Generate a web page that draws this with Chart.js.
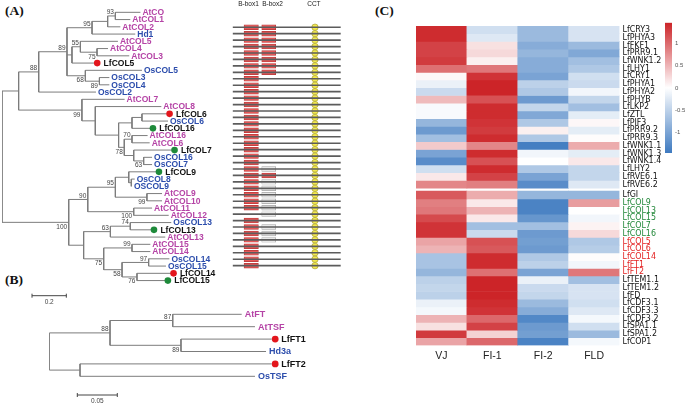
<!DOCTYPE html>
<html>
<head>
<meta charset="utf-8">
<title>COL / FT phylogeny and expression heatmap</title>
<script src="https://cdn.jsdelivr.net/npm/chart.js@4.4.1/dist/chart.umd.min.js"></script>
<style>
html,body{margin:0;padding:0;background:#fff;}
body{position:relative;width:685px;height:403px;overflow:hidden;}
canvas{position:absolute;}
.panel{position:absolute;font-family:"Liberation Serif","Times New Roman",serif;font-weight:bold;font-size:13.5px;line-height:14px;color:#111;}
</style>
</head>
<body>
<div class="panel" style="left:5px;top:4px">(A)</div>
<div class="panel" style="left:5px;top:273px">(B)</div>
<div class="panel" style="left:375px;top:4px">(C)</div>
<canvas id="treeA" width="232" height="312" style="left:0;top:0"></canvas>
<canvas id="domains" width="122" height="312" style="left:228px;top:0"></canvas>
<canvas id="treeB" width="330" height="103" style="left:0;top:300px"></canvas>
<canvas id="heat" width="269" height="403" style="left:416px;top:0"></canvas>
<canvas id="cbar" width="30" height="155" style="left:655px;top:10px"></canvas>
<script>
// ---------------- DATA ----------------
// (C) heatmap
const heatColumns = ['VJ', 'FI-1', 'FI-2', 'FLD'];
const clockGenes = ['LfCRY3','LfPHYA3','LfFKF1','LfPRR9.1','LfWNK1.2','LfLHY1','LfCRY1','LfPHYA1','LfPHYA2','LfPHYB','LfLKP2','LfZTL','LfPIF3','LfPRR9.2','LfPRR9.3','LfWNK1.1','LfWNK1.3','LfWNK1.4','LfLHY2','LfRVE6.1','LfRVE6.2'];
const floweringGenes = ['LfGI','LfCOL9','LfCOL13','LfCOL15','LfCOL7','LfCOL16','LfCOL5','LfCOL6','LfCOL14','LfFT1','LfFT2','LfTEM1.1','LfTEM1.2','LfFD','LfCDF3.1','LfCDF3.3','LfCDF3.2','LfSPA1.1','LfSPA1.2','LfCOP1'];
const valuesVJ  = [1.4,1.4,1.25,1.25,1.3,0.95,0.05,-0.15,-0.4,0.45,-0.05,-0.05,-0.8,-1.1,-0.7,0.35,-1.0,-1.25,-0.35,0.15,0.8,
                   1.1,0.85,0.9,1.2,1.35,1.35,0.6,0.5,-0.65,-0.65,-0.8,-0.5,-0.45,-0.5,-0.15,-0.08,0.5,0.2,1.3,0.6];
const valuesFI1 = [-0.35,-0.25,0.2,0.25,0.1,0.9,1.35,1.45,1.45,1.15,1.4,1.4,1.35,1.3,1.4,0.8,1.4,1.15,1.4,1.25,0.85,
                   0.55,0.15,0.5,0.15,-0.7,-0.4,1.15,1.1,1.4,1.4,0.95,1.45,1.45,1.45,1.4,1.35,1.0,1.25,0.3,1.0];
const valuesFI2 = [-0.75,-0.75,-0.9,-0.8,-0.9,-0.9,-1.0,-0.5,-0.6,-1.1,-0.45,-0.95,-0.6,0.1,-0.6,-1.4,-0.1,0.0,-0.6,-1.0,-1.25,
                   -0.8,-1.35,-1.35,-1.15,-0.7,-1.1,-1.05,-1.1,-0.6,-0.5,-1.0,-0.15,-0.4,-0.45,-0.75,-0.9,-1.3,-1.1,-1.05,-1.35];
const valuesFLD = [-0.3,-0.3,-0.75,-0.95,-0.7,-0.6,-0.35,-0.4,-0.1,-0.45,-0.7,-0.2,0.05,-0.2,0.02,0.55,-0.2,0.15,-0.45,-0.45,-0.25,
                   -0.8,0.65,0.0,-0.1,0.08,0.25,-0.6,-0.55,0.02,-0.1,0.9,-0.7,-0.3,-0.3,-0.35,-0.25,-0.08,-0.35,-0.75,-0.08];
const colorbarTicks = [-1, -0.5, 0, 0.5, 1];
const colorbarRange = [-1.45, 1.45];
const greenGenes = ['LfCOL9','LfCOL13','LfCOL15','LfCOL7','LfCOL16'];
const redGenes = ['LfCOL5','LfCOL6','LfCOL14','LfFT1','LfFT2'];

// (A) COL tree: internal node = [distance, bootstrap, ...children]; leaf = name
const treeATopology = [0, null,
  [0.097, null,
    [0.214, 88,
      [0.379, 89,
        [0.525, 95, [0.616, null, [0.661, 93, 'AtCO', 'AtCOL1'], 'AtCOL2'], 'Hd1'],
        [0.408, null, [0.457, 55, 'AtCOL5', [0.554, 75, 'AtCOL4', 'AtCOL3']], 'LfCOL5'],
        [0.486, 68, 'OsCOL5', [0.568, 89, 'OsCOL3', 'OsCOL4']]
      ],
      'OsCOL2'
    ],
    [0.466, 99, 'AtCOL7',
      [0.544, null, 'AtCOL8',
        [0.680, null,
          [0.758, null, [0.816, null, 'LfCOL6', 'OsCOL6'], 'LfCOL16'],
          [0.713, 78, [0.758, 70, 'AtCOL16', 'AtCOL6'], [0.768, null, 'LfCOL7', [0.826, 63, 'OsCOL16', 'OsCOL7']]]
        ]
      ]
    ]
  ],
  [0.389, 100,
    [0.500, 90,
      [0.661, 95, [0.739, null, 'LfCOL9', [0.754, null, 'OsCOL8', 'OSCOL9']], [0.845, 99, 'AtCOL9', 'AtCOL10']],
      [0.768, 100, 'AtCOL11', 'AtCOL12']
    ],
    [0.476, null,
      [0.632, 63, [0.748, 74, 'OsCOL13', 'LfCOL13'], 'AtCOL13'],
      [0.593, 75, [0.758, 99, 'AtCOL15', 'AtCOL14'], [0.700, 58, [0.855, 97, 'OsCOL14', 'OsCOL15'], [0.787, 76, 'LfCOL14', 'LfCOL15']]]
    ]
  ]
];
const treeALeaves = ['AtCO','AtCOL1','AtCOL2','Hd1','AtCOL5','AtCOL4','AtCOL3','LfCOL5','OsCOL5','OsCOL3','OsCOL4','OsCOL2','AtCOL7','AtCOL8','LfCOL6','OsCOL6','LfCOL16','AtCOL16','AtCOL6','LfCOL7','OsCOL16','OsCOL7','LfCOL9','OsCOL8','OSCOL9','AtCOL9','AtCOL10','AtCOL11','AtCOL12','OsCOL13','LfCOL13','AtCOL13','AtCOL15','AtCOL14','OsCOL14','OsCOL15','LfCOL14','LfCOL15'];
const treeALeafDist = [0.807,0.748,0.690,0.777,0.676,0.618,0.742,0.540,0.816,0.626,0.626,0.548,0.715,0.929,0.962,0.968,0.865,0.849,0.861,0.991,0.875,0.875,0.900,0.774,0.758,0.933,0.933,0.875,0.972,0.987,0.871,0.952,0.865,0.865,0.976,0.956,0.985,0.952];
const treeAScaleBar = 0.2;

// domain structure (same leaf order): B-box1 present (1/0), B-box2 kind (R red, G degenerate grey, - none)
const bbox1Present = [1,1,1,1,1,1,1,1,1,1,1,1,1,1,1,1,1,1,1,1,1,1,1,1,1,1,1,1,1,0,1,1,1,1,1,1,1,1];
const bbox2Kind = ['R','R','R','R','R','R','R','R','-','-','-','-','-','-','-','-','-','-','-','-','-','-','G','R','G','G','G','G','G','G','-','G','G','G','-','-','-','-'];
const bbox1Span = [10.5, 23.8];
const bbox2Span = [26.9, 39.8];
const cctPos = 76.2;
const domainHeaders = ['B-box1', 'B-box2', 'CCT'];

// (B) FT tree
const treeBTopology = [0, null,
  [0.0759, 88, [0.1543, 87, 'AtFT', 'AtTSF'], [0.1646, 89, 'LfFT1', 'Hd3a']],
  [0.0384, null, 'LfFT2', 'OsTSF']
];
const treeBLeaves = ['AtFT','AtTSF','LfFT1','Hd3a','LfFT2','OsTSF'];
const treeBLeafDist = [0.2405,0.2571,0.278,0.2709,0.278,0.2571];
const treeBScaleBar = 0.05;

// ---------------- HELPERS ----------------
Chart.defaults.font.family = '"Liberation Sans", Arial, sans-serif';
const SANS = '"Liberation Sans", Arial, sans-serif';
const NARROW = '"Liberation Sans Narrow", "DejaVu Sans Condensed", "Arial Narrow", sans-serif';
const baseOpts = {responsive:false, animation:false, events:[], plugins:{legend:{display:false}, tooltip:{enabled:false}}};

const LOW = [62,122,192], HIGH = [204,36,40];
function heatColor(v){
  const t = Math.max(-1, Math.min(1, v / colorbarRange[1]));
  const c = t < 0 ? LOW : HIGH, a = Math.abs(t);
  return 'rgb(' + c.map(k => Math.round(255 + (k - 255) * a)).join(',') + ')';
}
function speciesColor(n){
  if (/^At/.test(n)) return '#B544A6';
  if (/^(Os|OS|Hd)/.test(n)) return '#2C4DAC';
  return '#111111';
}
function dotColor(n){
  if (redGenes.includes(n)) return '#E3161C';
  if (greenGenes.includes(n)) return '#1E8A3A';
  return null;
}
function labelColor(n){
  if (redGenes.includes(n)) return '#E32222';
  if (greenGenes.includes(n)) return '#23883A';
  return '#111';
}

function layoutTree(topo, leaves, dists){
  const segs = [], nodes = [];
  function walk(n, isFirst){
    if (typeof n === 'string'){ const i = leaves.indexOf(n); return {x: dists[i], y: i}; }
    const [x, bs, ...kids] = n;
    const ys = kids.map((k, j) => { const r = walk(k, j === 0); segs.push([x, r.y, r.x, r.y]); return r.y; });
    segs.push([x, ys[0], x, ys[ys.length - 1]]);
    const y = (ys[0] + ys[ys.length - 1]) / 2;
    if (bs != null) nodes.push({x, y, bs, above: isFirst});
    return {x, y};
  }
  walk(topo, true);
  const pts = [];
  segs.forEach(s => { pts.push({x:s[0], y:s[1]}, {x:s[2], y:s[3]}, {x:s[2], y:null}); });
  return {pts, nodes};
}

function treePlugin(layout, leaves, dists, o){
  return {
    id: 'treeDecor',
    afterDatasetsDraw(chart){
      const {ctx, scales:{x, y}, chartArea} = chart;
      ctx.save();
      leaves.forEach((name, i) => {
        const px = x.getPixelForValue(dists[i]), py = y.getPixelForValue(i);
        let tx = px + o.textGap;
        const dc = dotColor(name);
        if (dc){
          ctx.beginPath(); ctx.arc(px + o.dotGap, py, o.dotR, 0, Math.PI * 2);
          ctx.fillStyle = dc; ctx.fill();
          tx = px + o.dotTextGap;
        }
        ctx.font = 'bold ' + o.fontSize + 'px ' + SANS;
        ctx.fillStyle = speciesColor(name);
        ctx.textAlign = 'left'; ctx.textBaseline = 'middle';
        ctx.fillText(name, tx, py + 0.5);
      });
      ctx.font = '6.5px ' + SANS; ctx.fillStyle = '#444'; ctx.textAlign = 'right';
      layout.nodes.forEach(n => {
        const px = x.getPixelForValue(n.x) - 1.5, py = y.getPixelForValue(n.y);
        if (n.above){ ctx.textBaseline = 'bottom'; ctx.fillText(String(n.bs), px, py - 0.3); }
        else { ctx.textBaseline = 'top'; ctx.fillText(String(n.bs), px, py + 1.5); }
      });
      // scale bar
      const x0 = x.getPixelForValue(o.barStart), x1 = x.getPixelForValue(o.barStart + o.barLen);
      const by = chartArea.bottom + o.barDy;
      ctx.strokeStyle = '#444'; ctx.lineWidth = 1;
      ctx.beginPath();
      ctx.moveTo(x0, by); ctx.lineTo(x1, by);
      ctx.moveTo(x0, by - 2); ctx.lineTo(x0, by + 2);
      ctx.moveTo(x1, by - 2); ctx.lineTo(x1, by + 2);
      ctx.stroke();
      ctx.font = '6.5px ' + SANS; ctx.fillStyle = '#444'; ctx.textAlign = 'center'; ctx.textBaseline = 'middle';
      ctx.fillText(String(o.barLen), (x0 + x1) / 2, by + 6.5);
      ctx.restore();
    }
  };
}

function treeChart(id, topo, leaves, dists, cfg){
  const lay = layoutTree(topo, leaves, dists);
  return new Chart(document.getElementById(id), {
    type: 'scatter',
    data: {datasets: [{data: lay.pts, showLine: true, spanGaps: false, borderColor: '#7c7c7c', borderWidth: 1, pointRadius: 0}]},
    options: Object.assign({}, baseOpts, {
      layout: {padding: cfg.padding},
      scales: {
        x: {type: 'linear', display: false, min: 0, max: cfg.xMax},
        y: {type: 'linear', display: false, min: -0.5, max: leaves.length - 0.5, reverse: true}
      }
    }),
    plugins: [treePlugin(lay, leaves, dists, cfg.deco)]
  });
}

// ---------------- (A) tree ----------------
treeChart('treeA', treeATopology, treeALeaves, treeALeafDist, {
  padding: {left: 2, right: 0, top: 8.7, bottom: 312 - 8.7 - 38 * 7.25},
  xMax: 230 / 171.5,
  deco: {fontSize: 8.5, textGap: 2, dotGap: 2.6, dotR: 3.3, dotTextGap: 9, barStart: 0.175, barLen: treeAScaleBar, barDy: 11.5}
});

// ---------------- domains ----------------
(function(){
  const rows = treeALeaves.map((n, i) => i);
  const bb1 = rows.filter(i => bbox1Present[i]).map(i => ({x: bbox1Span, y: i}));
  const bb2r = rows.filter(i => bbox2Kind[i] === 'R').map(i => ({x: bbox2Span, y: i}));
  const bb2g = rows.filter(i => bbox2Kind[i] === 'G').map(i => ({x: bbox2Span, y: i}));
  const barBase = {grouped: false, borderSkipped: false, barPercentage: 1, categoryPercentage: 1};
  new Chart(document.getElementById('domains'), {
    type: 'bar',
    data: {datasets: [
      Object.assign({}, barBase, {data: rows.map(i => ({x: [0, 100], y: i})), maxBarThickness: 1, backgroundColor: '#5c5c5c', borderWidth: 0}),
      Object.assign({}, barBase, {data: bb1, maxBarThickness: 4.8, backgroundColor: '#E65858', borderColor: '#B73838', borderWidth: 0.7}),
      Object.assign({}, barBase, {data: bb2r, maxBarThickness: 4.8, backgroundColor: '#E65858', borderColor: '#B73838', borderWidth: 0.7}),
      Object.assign({}, barBase, {data: bb2g, maxBarThickness: 4.8, backgroundColor: '#E8E8E8', borderColor: '#A5A5A5', borderWidth: 0.7}),
      {type: 'scatter', data: rows.map(i => ({x: cctPos, y: i})), pointRadius: 3.2, pointBackgroundColor: '#F4EA4E', pointBorderColor: '#A9A03C', pointBorderWidth: 0.7, showLine: false}
    ]},
    options: Object.assign({}, baseOpts, {
      indexAxis: 'y',
      layout: {padding: {left: 4.7, right: 9.3, top: 8.7, bottom: 312 - 8.7 - 38 * 7.25}},
      scales: {
        x: {type: 'linear', display: false, min: 0, max: 100},
        y: {type: 'linear', display: false, min: -0.5, max: 37.5, reverse: true}
      }
    }),
    plugins: [{
      id: 'domainHeaders',
      afterDraw(chart){
        const {ctx, scales:{x}} = chart;
        const centers = [(bbox1Span[0] + bbox1Span[1]) / 2 - 2.5, (bbox2Span[0] + bbox2Span[1]) / 2 + 3.5, cctPos - 1];
        ctx.save();
        ctx.font = '6.5px ' + SANS; ctx.fillStyle = '#222'; ctx.textAlign = 'center'; ctx.textBaseline = 'middle';
        domainHeaders.forEach((h, k) => ctx.fillText(h, x.getPixelForValue(centers[k]), 4.6));
        ctx.restore();
      }
    }]
  });
})();

// ---------------- (B) tree ----------------
treeChart('treeB', treeBTopology, treeBLeaves, treeBLeafDist, {
  padding: {left: 49.3, right: 0, top: 8.1, bottom: 103 - 8.1 - 6 * 12.4},
  xMax: (330 - 49.3) / 800,
  deco: {fontSize: 9, textGap: 3, dotGap: 3.5, dotR: 3.4, dotTextGap: 9.5, barStart: 0.035, barLen: treeBScaleBar, barDy: 12.5}
});

// ---------------- (C) heatmap ----------------
(function(){
  const genes = clockGenes.concat(floweringGenes);
  const gap = 0.39;
  const rowStart = i => i < clockGenes.length ? i : i + gap;
  const total = genes.length + gap;
  const datasets = genes.map((g, i) => ({
    label: g,
    data: heatColumns.map(() => [rowStart(i), rowStart(i) + 1]),
    backgroundColor: [valuesVJ[i], valuesFI1[i], valuesFI2[i], valuesFLD[i]].map(heatColor),
    grouped: false, barPercentage: 1, categoryPercentage: 1, borderWidth: 0, borderSkipped: false
  }));
  new Chart(document.getElementById('heat'), {
    type: 'bar',
    data: {labels: heatColumns, datasets},
    options: Object.assign({}, baseOpts, {
      layout: {padding: {left: 0, top: 26, right: 0, bottom: 0}},
      scales: {
        x: {
          grid: {display: false, drawTicks: false}, border: {display: false},
          ticks: {padding: 4, color: '#222', font: {size: 10.5, family: SANS}},
          afterFit: s => { s.height = 57.5; }
        },
        y: {
          type: 'linear', position: 'right', min: 0, max: total, reverse: true,
          grid: {display: false, drawTicks: false}, border: {display: false},
          afterBuildTicks: s => { s.ticks = genes.map((g, i) => ({value: rowStart(i) + 0.5})); },
          afterFit: s => { s.width = 65.5; },
          ticks: {
            autoSkip: false, padding: 3,
            font: {size: 8.8, family: NARROW},
            color: c => labelColor(genes[c.index]),
            callback: (v, idx) => genes[idx]
          }
        }
      }
    })
  });
})();

// ---------------- colour key ----------------
new Chart(document.getElementById('cbar'), {
  type: 'bar',
  data: {labels: [''], datasets: [{
    data: [colorbarRange],
    barPercentage: 1, categoryPercentage: 1, borderWidth: 0,
    backgroundColor: c => {
      const a = c.chart.chartArea;
      if (!a) return '#fff';
      const g = c.chart.ctx.createLinearGradient(0, a.bottom, 0, a.top);
      for (let k = 0; k <= 20; k++){
        const v = colorbarRange[0] + (colorbarRange[1] - colorbarRange[0]) * k / 20;
        g.addColorStop(k / 20, heatColor(v));
      }
      return g;
    }
  }]},
  options: Object.assign({}, baseOpts, {
    layout: {padding: {left: 10, top: 12.7, right: 0, bottom: 12}},
    scales: {
      x: {display: false},
      y: {
        position: 'right', min: colorbarRange[0], max: colorbarRange[1],
        grid: {display: false, drawTicks: false}, border: {display: false},
        afterBuildTicks: s => { s.ticks = colorbarTicks.map(v => ({value: v})); },
        afterFit: s => { s.width = 13; },
        ticks: {autoSkip: false, padding: 3, color: '#555', font: {size: 6, family: SANS}, callback: v => String(v)}
      }
    }
  })
});
</script>
</body>
</html>
